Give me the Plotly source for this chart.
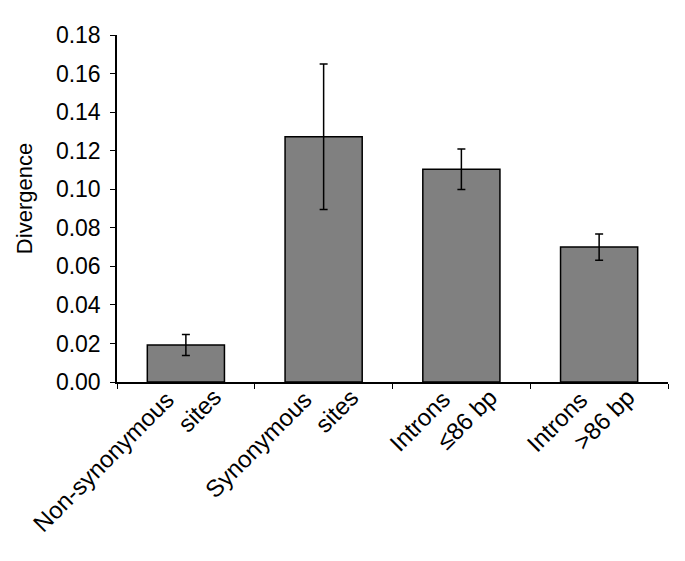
import plotly.graph_objects as go

# Categories and values
CATEGORIES = ["nonsyn", "syn", "introns_short", "introns_long"]
LABEL_LINE1 = ["Non-synonymous", "Synonymous", "Introns", "Introns"]
LABEL_LINE2 = ["sites", "sites", "\u226486 bp", ">86 bp"]
DIVERGENCE = [0.0192, 0.1272, 0.1103, 0.0700]
ERROR = [0.0055, 0.0377, 0.0105, 0.0068]
Y_TICKS = [0.00, 0.02, 0.04, 0.06, 0.08, 0.10, 0.12, 0.14, 0.16, 0.18]

FONT = "Liberation Sans, Arial, Helvetica, sans-serif"
BLACK = "black"

fig = go.Figure(
    go.Bar(
        x=CATEGORIES,
        y=DIVERGENCE,
        width=0.56,
        marker=dict(color="#808080", line=dict(color=BLACK, width=1.5)),
        error_y=dict(
            type="data", array=ERROR, visible=True,
            color=BLACK, thickness=1.5, width=4,
        ),
        showlegend=False,
    )
)

# Two-line rotated category labels, the second line sits a bit further along
for cat, line1, line2 in zip(CATEGORIES, LABEL_LINE1, LABEL_LINE2):
    for text, dx, dy in ((line1, -4, -1), (line2, 43, 1)):
        fig.add_annotation(
            x=cat, y=0, xref="x", yref="y",
            text=text, textangle=-45, showarrow=False,
            xanchor="right", yanchor="top",
            xshift=dx, yshift=dy,
            font=dict(family=FONT, size=24, color=BLACK),
        )

# Y axis title as a rotated annotation
fig.add_annotation(
    x=0, y=0.527, xref="paper", yref="paper",
    text="Divergence", textangle=-90, showarrow=False,
    xanchor="center", yanchor="middle", xshift=-93,
    font=dict(family=FONT, size=22, color=BLACK),
)

fig.update_xaxes(
    range=[-0.5, len(CATEGORIES) - 0.5],
    showticklabels=False,
    tickson="boundaries",
    ticks="outside",
    ticklen=5,
    tickcolor=BLACK,
    showline=True,
    linecolor=BLACK,
    linewidth=1.5,
    showgrid=False,
    automargin=False,
)
fig.update_yaxes(
    range=[0, 0.18],
    tickvals=Y_TICKS,
    tickformat=".2f",
    ticks="outside",
    ticklen=5,
    ticklabelstandoff=5,
    tickcolor=BLACK,
    showline=True,
    linecolor=BLACK,
    linewidth=1.5,
    showgrid=False,
    zeroline=False,
    automargin=False,
    tickfont=dict(family=FONT, size=23, color=BLACK),
)
# page body adds 8px, so the figure is trimmed to fit the window
fig.update_layout(
    width=669,
    height=545,
    plot_bgcolor="white",
    paper_bgcolor="white",
    margin=dict(l=109, r=9, t=27, b=171),
    bargap=0.44,
)

fig.write_html("out.html")
